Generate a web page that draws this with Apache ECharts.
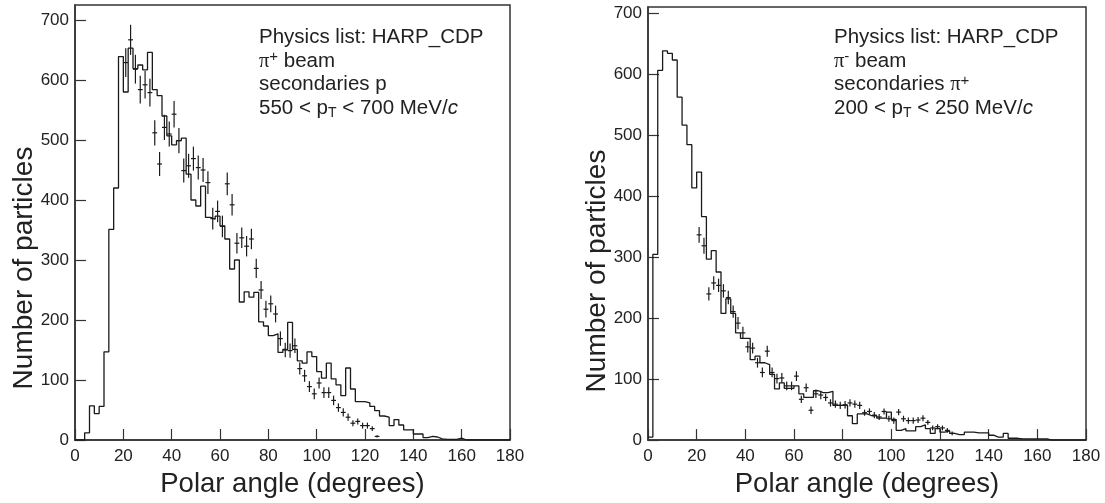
<!DOCTYPE html>
<html><head><meta charset="utf-8">
<script src="https://cdn.jsdelivr.net/npm/echarts@6/dist/echarts.min.js"></script>
<style>html,body{margin:0;padding:0;background:#fff}#c{width:1105px;height:503px}</style>
</head><body><div id="c"></div>
<script>
// ---- data ----
const binWidth = 2;            // degrees per histogram bin (bins start at 0)
const xTickValues = [0, 20, 40, 60, 80, 100, 120, 140, 160, 180];
const yTickStep = 100;

// Left panel: pi+ beam, secondaries p, 550 < pT < 700 MeV/c  (simulation histogram)
const histLeft = [
  0, 0, 12, 57, 44, 56, 147, 351, 420, 639,
  580, 653, 619, 625, 617, 646, 584, 574, 540, 507,
  492, 499, 503, 443, 400, 390, 423, 371, 368, 373,
  357, 335, 285, 300, 230, 247, 238, 246, 197, 190,
  174, 177, 146, 151, 196, 151, 132, 128, 147, 139,
  114, 103, 128, 102, 92, 74, 120, 85, 64, 64,
  62, 56, 49, 40, 38, 24, 34, 25, 17, 17,
  10, 10, 4, 6, 5, 2, 1, 1, 1, 3,
  0, 0, 0, 0, 0, 0, 0, 0, 0, 0
];
// Left panel data points
const ptsLeftX = [21,23,25,27,29,31,33,35,37,39,41,43,45,47,49,51,53,55,57,59,61,63,65,67,69,71,73,75,77,79,81,83,85,87,89,91,93,95,97,99,101,103,105,107,109,111,113,115,117,119,121,123,125];
const ptsLeftY = [629,667,618,584,592,579,512,460,521,510,543,499,449,457,469,454,450,429,369,381,356,427,392,328,337,323,335,286,250,218,227,210,169,150,149,157,119,107,89,77,95,79,79,66,54,46,38,28,31,24,24,19,6];
const ptsLeftErr = [24,25,24,23,23,23,21,20,21,21,22,21,20,20,20,20,20,19,18,18,18,19,18,17,17,17,17,16,15,14,14,14,12,12,12,12,10,10,9,9,9,9,9,8,7,7,6,5,5,5,5,4,2];

// Right panel: pi- beam, secondaries pi+, 200 < pT < 250 MeV/c
const histRight = [
  5, 305, 607, 639, 635, 624, 563, 517, 485, 414,
  440, 367, 297, 311, 276, 208, 232, 208, 176, 167,
  167, 132, 138, 127, 124, 108, 84, 94, 85, 85,
  89, 76, 70, 70, 81, 78, 78, 80, 57, 57,
  57, 40, 27, 43, 43, 40, 40, 36, 36, 46,
  34, 16, 19, 15, 15, 22, 25, 19, 11, 19,
  13, 15, 11, 9, 9, 13, 13, 12, 12, 12,
  8, 5, 5, 11, 3, 3, 2, 2, 2, 2,
  2, 2, 0, 0, 0, 0, 0, 0, 0, 0
];
const ptsRightX = [21,23,25,27,29,31,33,35,37,39,41,43,45,47,49,51,53,55,57,59,61,63,65,67,69,71,73,75,77,79,81,83,85,87,89,91,93,95,97,99,101,103,105,107,109,111,113,115,117,119,121,123,125];
const ptsRightY = [337,319,240,258,254,245,234,211,192,176,153,151,127,111,146,111,101,102,89,89,105,67,86,49,76,74,70,61,59,57,58,61,59,57,45,47,41,38,47,35,32,46,35,32,32,33,36,29,20,22,20,16,11];
const ptsRightErr = [13,13,11,11,11,11,11,10,10,10,9,9,8,8,9,8,8,8,7,7,8,6,7,6,7,7,6,6,6,6,6,6,6,6,5,5,5,5,5,5,5,5,5,5,5,5,5,4,4,4,4,4,3];

const yMaxLeft = 725;
const yMaxRight = 711;

// ---- build ----
function histSeriesData(vals) {
  const d = vals.map((v, i) => [i * binWidth, v]);
  d.push([vals.length * binWidth, vals[vals.length - 1]]);
  return d;
}
function pointData(xs, ys, es) {
  return xs.map((x, i) => [x, ys[i], es[i]]);
}
const INK = '#1a1a1a';
const FONT = '"Liberation Sans", Arial, Helvetica, sans-serif';

function crossItem(params, api) {
  const x = api.value(0), y = api.value(1), e = api.value(2);
  const c = api.coord([x, y]);
  const t = api.coord([x, y + e]);
  const b = api.coord([x, Math.max(0, y - e)]);
  const l = api.coord([x - binWidth / 2, y]);
  const r = api.coord([x + binWidth / 2, y]);
  return {
    type: 'group',
    children: [
      { type: 'line', shape: { x1: c[0], y1: t[1], x2: c[0], y2: b[1] }, style: { stroke: INK, lineWidth: 1.2 } },
      { type: 'line', shape: { x1: l[0], y1: c[1], x2: r[0], y2: c[1] }, style: { stroke: INK, lineWidth: 1.2 } }
    ]
  };
}

function xAxisCfg(gi) {
  return {
    gridIndex: gi, type: 'value', min: xTickValues[0], max: xTickValues[xTickValues.length - 1],
    interval: xTickValues[1] - xTickValues[0],
    axisLine: { show: true, lineStyle: { color: '#333', width: 1.5 } },
    axisTick: { show: true, inside: true, length: 11, lineStyle: { color: '#333', width: 1.2 } },
    axisLabel: { fontSize: 17, color: '#222', fontFamily: FONT, margin: 8 },
    splitLine: { show: false },
    name: 'Polar angle (degrees)', nameLocation: 'middle', nameGap: gi === 0 ? 30 : 26,
    nameTextStyle: { fontSize: 27.5, color: '#222', fontFamily: FONT }
  };
}
function yAxisCfg(gi, max) {
  return {
    gridIndex: gi, type: 'value', min: 0, max: max, interval: yTickStep,
    axisLine: { show: true, lineStyle: { color: '#333', width: 1.5 } },
    axisTick: { show: true, inside: true, length: 11, lineStyle: { color: '#333', width: 1.2 } },
    axisLabel: { fontSize: 17, color: '#222', fontFamily: FONT, margin: 6, showMaxLabel: false,
      formatter: v => (v % yTickStep === 0 ? String(v) : '') },
    splitLine: { show: false }
  };
}

const richStyles = {
  a: { fontSize: 20.5, fontFamily: FONT, color: '#222', lineHeight: 23.5, verticalAlign: 'middle' },
  g: { fontSize: 20.5, fontFamily: '"Liberation Serif", "DejaVu Serif", serif', color: '#222', lineHeight: 23.5, verticalAlign: 'middle' },
  sup: { fontSize: 15, fontFamily: FONT, color: '#222', lineHeight: 12, verticalAlign: 'top' },
  sub: { fontSize: 14, fontFamily: FONT, color: '#222', lineHeight: 12, verticalAlign: 'bottom' },
  i: { fontSize: 20.5, fontFamily: FONT, fontStyle: 'italic', color: '#222', lineHeight: 23.5, verticalAlign: 'middle' }
};
const noteLeft = '{a|Physics list: HARP_CDP}\n{g|π}{sup|+}{a| beam}\n{a|secondaries p}\n{a|550 < p}{sub|T}{a| < 700 MeV/}{i|c}';
const noteRight = '{a|Physics list: HARP_CDP}\n{g|π}{sup|-}{a| beam}\n{a|secondaries }{g|π}{sup|+}\n{a|200 < p}{sub|T}{a| < 250 MeV/}{i|c}';

const chart = echarts.init(document.getElementById('c'), null, { renderer: 'canvas' });
chart.setOption({
  animation: false,
  backgroundColor: '#fff',
  grid: [
    { left: 75, top: 5, width: 435, height: 436, show: true, borderColor: '#333', borderWidth: 1.5, backgroundColor: 'transparent' },
    { left: 648, top: 7, width: 438, height: 438, show: true, borderColor: '#333', borderWidth: 1.5, backgroundColor: 'transparent' }
  ],
  xAxis: [xAxisCfg(0), xAxisCfg(1)],
  yAxis: [yAxisCfg(0, yMaxLeft), yAxisCfg(1, yMaxRight)],
  series: [
    { type: 'line', xAxisIndex: 0, yAxisIndex: 0, step: 'end', symbol: 'none', data: histSeriesData(histLeft),
      lineStyle: { color: INK, width: 1.3 }, silent: true },
    { type: 'custom', xAxisIndex: 0, yAxisIndex: 0, renderItem: crossItem, data: pointData(ptsLeftX, ptsLeftY, ptsLeftErr),
      encode: { x: 0, y: 1 }, silent: true },
    { type: 'line', xAxisIndex: 1, yAxisIndex: 1, step: 'end', symbol: 'none', data: histSeriesData(histRight),
      lineStyle: { color: INK, width: 1.3 }, silent: true },
    { type: 'custom', xAxisIndex: 1, yAxisIndex: 1, renderItem: crossItem, data: pointData(ptsRightX, ptsRightY, ptsRightErr),
      encode: { x: 0, y: 1 }, silent: true }
  ],
  graphic: [
    { type: 'text', x: 24, y: 268, rotation: Math.PI / 2,
      style: { text: 'Number of particles', fontSize: 28, fontFamily: FONT, fill: '#222', align: 'center', verticalAlign: 'middle' } },
    { type: 'text', x: 597, y: 271, rotation: Math.PI / 2,
      style: { text: 'Number of particles', fontSize: 28, fontFamily: FONT, fill: '#222', align: 'center', verticalAlign: 'middle' } },
    { type: 'text', x: 259, y: 26, style: { text: noteLeft, rich: richStyles, fontSize: 20.5, fontFamily: FONT, fill: '#222', lineHeight: 23.5 } },
    { type: 'text', x: 834, y: 26, style: { text: noteRight, rich: richStyles, fontSize: 20.5, fontFamily: FONT, fill: '#222', lineHeight: 23.5 } }
  ]
});
</script>
</body></html>
